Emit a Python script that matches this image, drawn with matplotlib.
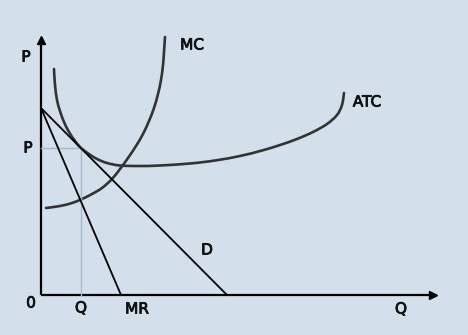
import numpy as np
import matplotlib
matplotlib.use('Agg')
import matplotlib.pyplot as plt
from matplotlib.path import Path
from matplotlib.patches import PathPatch
import matplotlib.patheffects as pe

# Monopoly diagram (Q to the right, P up)
d_q = [0, 186]          # demand line end points
d_p = [187, 0]
mr_q = [0, 80]          # marginal revenue
mr_p = [187, 0]
q_star = 40
p_star = 147

mc_q = [5, 19, 31, 41, 51, 61, 71, 79, 87, 95, 102, 108, 113, 117, 120, 122, 123, 124]
mc_p = [87, 89, 92, 96, 101, 107, 116, 126, 137, 149, 161, 174, 187, 201, 215, 230, 243, 258]

atc_q = [13, 14, 16, 19, 23, 28, 34, 40, 48, 56, 66, 79, 99, 119, 149, 174, 199,
         221, 239, 256, 272, 286, 296, 301, 303]
atc_p = [226, 210, 195, 184, 173, 163, 154, 147, 141, 136, 132, 129.5, 129, 129.5,
         131.5, 134.5, 139, 144.5, 150, 156, 163, 171, 180, 190, 202]

q_max = 392
p_max = 255

bg = '#d3dfeb'
curve_col = '#333333'
txt_col = '#111111'


def smooth_path(xs, ys):
    # catmull-rom through the read points, drawn as bezier segments
    p = np.column_stack([xs, ys]).astype(float)
    verts = [p[0]]
    codes = [Path.MOVETO]
    for i in range(len(p) - 1):
        p0 = p[i - 1] if i > 0 else p[i]
        p3 = p[i + 2] if i + 2 < len(p) else p[i + 1]
        c1 = p[i] + (p[i + 1] - p0) / 6
        c2 = p[i + 1] - (p3 - p[i]) / 6
        verts += [c1, c2, p[i + 1]]
        codes += [Path.CURVE4] * 3
    return Path(verts, codes)


fig = plt.figure(figsize=(4.68, 3.35), dpi=100, facecolor=bg)
ax = fig.add_axes([0, 0, 1, 1])
ax.set_facecolor(bg)
ax.set_xlim(-41, 427)
ax.set_ylim(-40, 295)
ax.axis('off')

# axes with arrow heads
ax.plot([0, 0], [0, p_max], color='black', lw=1.6, solid_capstyle='butt')
ax.plot([0, q_max], [0, 0], color='black', lw=1.6, solid_capstyle='butt')
ax.plot([0], [p_max], marker='^', color='black', ms=6, clip_on=False)
ax.plot([q_max], [0], marker='>', color='black', ms=6, clip_on=False)

# guide lines at the profit max point
ax.plot([q_star, q_star], [0, p_star], color='#a9b9cc', lw=1.0)
ax.plot([0, q_star], [p_star, p_star], color='#a9b9cc', lw=1.0)

ax.plot(d_q, d_p, color='black', lw=1.3)
ax.plot(mr_q, mr_p, color='black', lw=1.3)
for xs, ys in [(mc_q, mc_p), (atc_q, atc_p)]:
    ax.add_patch(PathPatch(smooth_path(xs, ys), facecolor='none',
                           edgecolor=curve_col, lw=1.9, capstyle='round'))

fs = 11
labels = [('P', -15, 238), ('P', -13, 147), ('0', -10, -8), ('Q', 40, -13),
          ('MR', 96, -14), ('D', 166, 45), ('Q', 360, -14), ('MC', 151, 250),
          ('ATC', 326, 193)]
for s, x, y in labels:
    ax.text(x, y, s, fontsize=fs, color=txt_col, ha='center', va='center',
            path_effects=[pe.withStroke(linewidth=0.6, foreground=txt_col)])

plt.savefig('out.png', dpi=100, facecolor=bg)
